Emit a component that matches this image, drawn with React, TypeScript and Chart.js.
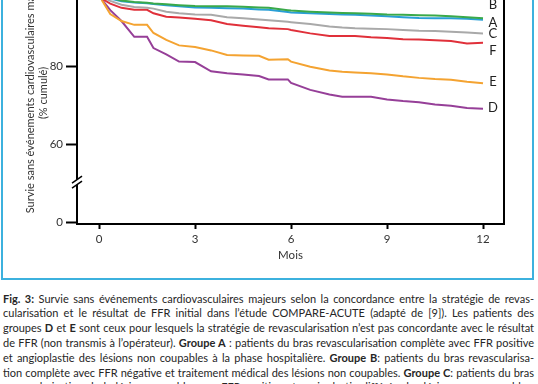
import React, { useEffect, useRef } from 'react';
import { Chart, registerables } from 'chart.js';

Chart.register(...registerables);

// Months of follow-up (shared sampling for all curves)
const months = [0, 0.1, 0.35, 0.7, 1.1, 1.5, 1.7, 2.1, 2.5, 3.0, 3.5, 4.0, 4.5, 5.0, 5.3, 5.9, 6.0, 6.6, 7.2, 7.6, 8.0, 8.5, 9.0, 9.5, 10.0, 10.5, 11.0, 11.5, 12];

// Event-free survival (% cumulé) per group
const groupB = [100, 98.6, 97.8, 97.1, 96.7, 96.5, 96.3, 96.1, 95.9, 95.7, 95.6, 95.6, 95.5, 95.3, 95.2, 94.6, 94.5, 94.2, 94.0, 93.9, 93.8, 93.7, 93.5, 93.4, 93.3, 93.2, 93.0, 92.8, 92.5];
const groupA = [100, 98.5, 97.6, 96.9, 96.6, 96.4, 96.2, 95.9, 95.6, 95.3, 95.2, 95.1, 95.0, 94.8, 94.7, 94.1, 94.0, 93.8, 93.6, 93.5, 93.4, 93.2, 93.0, 92.8, 92.6, 92.5, 92.5, 92.4, 92.1];
const groupC = [100, 98.0, 97.0, 96.0, 95.4, 95.2, 95.0, 94.2, 93.8, 93.5, 93.4, 92.8, 92.5, 92.2, 92.0, 91.6, 91.5, 91.0, 90.4, 90.1, 89.9, 89.8, 89.7, 89.5, 89.3, 89.2, 89.0, 88.8, 88.6];
const groupF = [100, 97.5, 96.3, 95.2, 94.7, 94.7, 93.8, 92.9, 92.7, 92.4, 92.0, 91.0, 90.6, 90.2, 89.9, 89.7, 89.5, 88.6, 87.9, 87.9, 87.9, 87.6, 87.4, 87.1, 87.0, 86.8, 86.6, 86.0, 86.2];
const groupE = [100, 97.0, 93.6, 91.8, 90.8, 90.8, 88.7, 86.9, 85.5, 85.1, 84.2, 83.0, 82.9, 82.8, 81.8, 81.9, 81.3, 80.0, 79.0, 78.7, 78.5, 78.3, 78.0, 77.5, 77.1, 76.8, 76.6, 76.1, 75.7];
const groupD = [100, 97.2, 94.6, 91.8, 87.7, 87.7, 84.8, 83.2, 81.3, 81.2, 78.8, 78.3, 78.0, 77.6, 76.7, 76.7, 75.8, 74.0, 72.8, 72.2, 72.2, 72.2, 71.5, 71.1, 70.8, 70.2, 69.9, 69.3, 69.1];

const groupNames = ['B', 'A', 'C', 'F', 'E', 'D'];
const groupColors = ['#3aa94a', '#2a9fd6', '#a9a9a9', '#e0303a', '#f4a331', '#963f98'];
const groupValues = [groupB, groupA, groupC, groupF, groupE, groupD];
// level (in % units) at which each end label sits
const labelLevels = [95.9, 91.3, 88.4, 84.1, 76.0, 69.3];
const labelMonth = 12.31;

const xTicks = [0, 3, 6, 9, 12];
const yTicks = [0, 60, 80, 100];
const ZERO_POS = 39.77; // broken axis: where "0" is drawn
const BREAK_LEVEL = 49.9;

const captionLines: Array<Array<[string, boolean]>> = [
  [['Fig. 3:', true], [' Survie sans événements cardiovasculaires majeurs selon la concordance entre la stratégie de revas-', false]],
  [['cularisation et le résultat de FFR initial dans l’étude COMPARE-ACUTE (adapté de [9]). Les patients des', false]],
  [['groupes ', false], ['D', true], [' et ', false], ['E', true], [' sont ceux pour lesquels la stratégie de revascularisation n’est pas concordante avec le résultat', false]],
  [['de FFR (non transmis à l’opérateur). ', false], ['Groupe A', true], [' : patients du bras revascularisation complète avec FFR positive', false]],
  [['et angioplastie des lésions non coupables à la phase hospitalière. ', false], ['Groupe B', true], [': patients du bras revascularisa-', false]],
  [['tion complète avec FFR négative et traitement médical des lésions non coupables. ', false], ['Groupe C', true], [': patients du bras', false]],
  [['revascularisation de la lésion coupable avec FFR positive et angioplastie différée des lésions non coupables.', false]],
];

const framePlugin = {
  id: 'frameAndLabels',
  afterDraw(chart: any) {
    const { ctx, chartArea } = chart;
    const { right, top, bottom, left } = chartArea;
    const ys = chart.scales.y;
    const xs = chart.scales.x;
    ctx.save();
    ctx.strokeStyle = '#000';
    ctx.lineWidth = 2;
    ctx.beginPath();
    ctx.moveTo(right, top);
    ctx.lineTo(right, bottom + 1);
    ctx.moveTo(left, top);
    ctx.lineTo(right, top);
    ctx.stroke();

    // axis break
    const by = ys.getPixelForValue(BREAK_LEVEL);
    ctx.fillStyle = '#fff';
    ctx.beginPath();
    ctx.moveTo(left - 5, by + 5);
    ctx.lineTo(left + 5, by - 2);
    ctx.lineTo(left + 5, by - 7);
    ctx.lineTo(left - 5, by);
    ctx.closePath();
    ctx.fill();
    ctx.lineWidth = 1.5;
    ctx.beginPath();
    ctx.moveTo(left - 5, by + 5);
    ctx.lineTo(left + 5, by - 2);
    ctx.moveTo(left - 5, by);
    ctx.lineTo(left + 5, by - 7);
    ctx.stroke();

    // end labels
    ctx.fillStyle = '#222';
    ctx.font = '13px Lato';
    ctx.textAlign = 'center';
    ctx.textBaseline = 'middle';
    const lx = xs.getPixelForValue(labelMonth);
    groupNames.forEach((n, i) => {
      ctx.fillText(n, lx, ys.getPixelForValue(labelLevels[i]));
    });
    ctx.restore();
  },
};

function SurvivalChart() {
  const ref = useRef<HTMLCanvasElement>(null);
  useEffect(() => {
    if (!ref.current) return;
    const chart = new Chart(ref.current, {
      type: 'line',
      data: {
        datasets: groupNames.map((n, i) => ({
          label: n,
          data: months.map((m, j) => ({ x: m, y: groupValues[i][j] })),
          borderColor: groupColors[i],
          borderWidth: 2,
          pointRadius: 0,
          tension: 0,
          fill: false,
        })),
      },
      options: {
        animation: false,
        responsive: false,
        devicePixelRatio: 1,
        layout: { padding: { top: 22, right: 34, left: 0, bottom: 0 } },
        plugins: { legend: { display: false }, tooltip: { enabled: false } },
        scales: {
          x: {
            type: 'linear',
            min: -0.69,
            max: 12.656,
            afterBuildTicks: (s: any) => {
              s.ticks = xTicks.map((v) => ({ value: v }));
            },
            afterFit: (s: any) => {
              s.height = 51;
            },
            grid: { drawOnChartArea: false, drawTicks: true, tickLength: 5, color: '#000', tickColor: '#000', tickWidth: 2 },
            border: { display: true, color: '#000', width: 2 },
            ticks: { color: '#333', font: { family: 'Lato', size: 11.5 }, padding: 3, maxRotation: 0 },
            title: { display: true, text: 'Mois', color: '#333', font: { family: 'Lato', size: 11.5 }, padding: { top: 0, bottom: 13 } },
          },
          y: {
            type: 'linear',
            min: 39.33,
            max: 107.05,
            afterBuildTicks: (s: any) => {
              s.ticks = yTicks.map((v) => ({ value: v === 0 ? ZERO_POS : v }));
            },
            afterFit: (s: any) => {
              s.width = 77;
            },
            grid: { drawOnChartArea: false, drawTicks: true, tickLength: 11, color: '#000', tickColor: '#000', tickWidth: 2 },
            border: { display: true, color: '#000', width: 2 },
            ticks: {
              color: '#333',
              font: { family: 'Lato', size: 11.5 },
              padding: 3,
              callback: (v: any) => (Math.abs(v - ZERO_POS) < 0.01 ? '0' : String(v)),
            },
            title: {
              display: true,
              text: ['Survie sans événements cardiovasculaires majeurs', '(% cumulé)'],
              color: '#333',
              font: { family: 'Lato', size: 11 },
              padding: { top: 24, bottom: 0 },
            },
          },
        },
      },
      plugins: [framePlugin],
    });
    return () => chart.destroy();
  }, []);
  return (
    <canvas
      ref={ref}
      width={538}
      height={335}
      style={{ position: 'absolute', left: 0, top: -60, width: 538, height: 335 }}
    />
  );
}

export default function App() {
  return (
    <div style={{ position: 'fixed', left: 0, top: 0, width: 538, height: 384, overflow: 'hidden', background: '#fff' }}>
      <div
        style={{
          position: 'absolute',
          left: 1,
          top: -10,
          width: 533,
          height: 290,
          boxSizing: 'border-box',
          border: '2px solid #3cb1de',
        }}
      />
      <SurvivalChart />
      <div
        style={{
          position: 'absolute',
          left: 3,
          top: 291.6,
          width: 531,
          fontFamily: 'Lato',
          fontSize: 11,
          lineHeight: '14.8px',
          color: '#262626',
        }}
      >
        {captionLines.map((line, i) => (
          <div key={i} style={{ whiteSpace: 'nowrap', textAlign: 'justify', textAlignLast: 'justify' as any, height: 14.8 }}>
            {line.map(([t, b], k) => (
              <span key={k} style={{ fontWeight: b ? 700 : 400 }}>{t}</span>
            ))}
          </div>
        ))}
      </div>
    </div>
  );
}
